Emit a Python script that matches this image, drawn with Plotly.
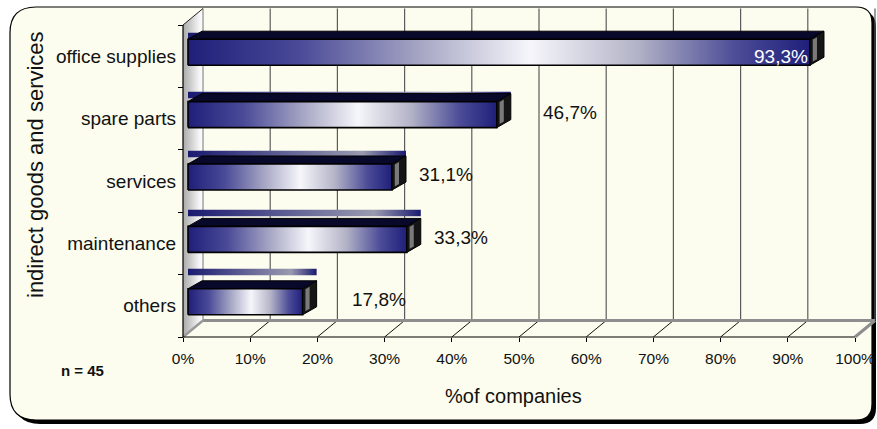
import plotly.graph_objects as go

# ---- data -------------------------------------------------------------
categories = ["office supplies", "spare parts", "services", "maintenance", "others"]
shares = [93.3, 46.7, 31.1, 33.3, 17.8]          # % of companies
x_tick_values = list(range(0, 101, 10))
x_tick_labels = [f"{t}%" for t in x_tick_values]
sample_note = "n = 45"
x_title = "%of companies"
y_title = "indirect goods and services"

# ---- geometry of the pseudo-3D frame (pixels -> axis units) -----------
W, H = 877, 429
X0_PX, Y0_PX = 183, 337        # front origin: 0 % on the floor line
PX_X, PX_Y = 6.72, 62.4        # pixels per percent / per category band


def ux(px):
    return px / PX_X


def uy(px):
    return px / PX_Y


WALL_DX, WALL_DY = ux(20), uy(16.5)    # depth of walls/floor
BAR_DX, BAR_DY = ux(14), uy(8)         # depth of each bar
N = len(categories)
TOP_U = N + WALL_DY
label_gap_px = [0, 44, 25, 25, 47]     # distance of outside labels from bar end

fig = go.Figure()


def poly(xs, ys, line_color="rgba(0,0,0,0)", line_width=0, fillcolor=None, gradient=None):
    kw = dict(x=list(xs) + [xs[0]], y=list(ys) + [ys[0]], mode="lines", fill="toself",
              line=dict(color=line_color, width=line_width),
              hoverinfo="skip", showlegend=False)
    if gradient is not None:
        kw["fillgradient"] = dict(type="horizontal", colorscale=gradient)
    else:
        kw["fillcolor"] = fillcolor
    fig.add_trace(go.Scatter(**kw))


def seg(xs, ys, color, width):
    fig.add_trace(go.Scatter(x=xs, y=ys, mode="lines", line=dict(color=color, width=width),
                             hoverinfo="skip", showlegend=False))


# left wall with grey shading
poly([0, WALL_DX, WALL_DX, 0], [0, WALL_DY, TOP_U, N],
     gradient=[[0, "#a9a9a9"], [0.8, "#f4f4f4"], [1, "#ffffff"]])

# back-wall gridlines
for k in x_tick_values[1:]:
    seg([k + WALL_DX, k + WALL_DX], [WALL_DY, TOP_U], "#5c5c5c", 1.2)
seg([WALL_DX, WALL_DX], [WALL_DY, TOP_U], "#8a8a8a", 1.2)
seg([0, WALL_DX], [N, TOP_U], "#222222", 1)

# floor edges and depth ticks
for k in x_tick_values[1:-1]:
    seg([k, k + WALL_DX], [0, WALL_DY], "#111111", 1)
seg([WALL_DX, 100 + WALL_DX], [WALL_DY, WALL_DY], "#8e8e8e", 3)
seg([100, 100 + WALL_DX], [0, WALL_DY], "#8e8e8e", 3)
seg([0, WALL_DX], [0, WALL_DY], "#9a9a9a", 2.5)

# front axis lines
seg([0, 100], [0, 0], "#000000", 1.2)
seg([0, 0], [0, N], "#000000", 1.2)

front_grad = [[0, "#1f1f7a"], [0.18, "#4a4a98"], [0.38, "#a9a9c6"], [0.55, "#f6f6fb"],
              [0.72, "#b4b4c8"], [0.88, "#4c4c98"], [1, "#1f1f7a"]]
band_grad = [[0, "#1a1a70"], [0.5, "#6a6a9a"], [0.8, "#9a9ab0"], [1, "#1a1a70"]]

x_start = ux(5)
annotations = []
for r, (cat, v) in enumerate(zip(categories, shares)):
    uc = N - 0.5 - r
    top = uc + uy(17)
    bot = uc - uy(9)
    # thin receding band behind the bar
    nb_top = top + uy(6.5 + 3.4 * r)
    nb_bot = nb_top - uy(6.5)
    poly([x_start, v + BAR_DX, v + BAR_DX, x_start], [nb_bot, nb_bot, nb_top, nb_top],
         gradient=band_grad)
    # top face
    poly([x_start, v, v + BAR_DX, x_start + BAR_DX], [top, top, top + BAR_DY, top + BAR_DY],
         line_color="#000000", line_width=1, fillcolor="#08082a")
    # front face
    poly([x_start, v, v, x_start], [bot, bot, top, top],
         line_color="#000000", line_width=1.6, gradient=front_grad)
    # end face
    poly([v, v + BAR_DX, v + BAR_DX, v], [top, top + BAR_DY, bot + BAR_DY, bot],
         line_color="#000000", line_width=1, fillcolor="#151515")
    a, b = 0.2, 0.5
    poly([v + a * BAR_DX, v + b * BAR_DX, v + b * BAR_DX, v + a * BAR_DX],
         [top + a * BAR_DY - uy(2), top + b * BAR_DY - uy(2),
          bot + b * BAR_DY + uy(2), bot + a * BAR_DY + uy(2)],
         fillcolor="#7a7a7a")

    text = f"{v:.1f}".replace(".", ",") + "%"
    if label_gap_px[r] == 0:
        annotations.append(dict(x=v, y=uc, xref="x", yref="y", text=text, showarrow=False,
                                xanchor="right", yanchor="middle",
                                font=dict(color="#ffffff", size=19)))
    else:
        annotations.append(dict(x=v + ux(label_gap_px[r]), y=uc + 0.1, xref="x", yref="y",
                                text=text, showarrow=False, xanchor="left", yanchor="middle",
                                font=dict(color="#111111", size=19)))

# titles and note
annotations += [
    dict(x=36 / W, y=1 - 165 / H, xref="paper", yref="paper", text=y_title, textangle=-90,
         showarrow=False, xanchor="center", yanchor="middle", font=dict(size=22, color="#111111")),
    dict(x=513 / W, y=1 - 396 / H, xref="paper", yref="paper", text=x_title,
         showarrow=False, xanchor="center", yanchor="middle", font=dict(size=20, color="#111111")),
    dict(x=82 / W, y=1 - 370 / H, xref="paper", yref="paper", text=f"<b>{sample_note}</b>",
         showarrow=False, xanchor="center", yanchor="middle", font=dict(size=15, color="#111111")),
]


# rounded card with drop shadow
def card_path(L, T, R, B, rl, rr):
    def p(x, y):
        return f"{x / W:.5f},{1 - y / H:.5f}"
    return (f"M{p(L + rl, T)} L{p(R - rr, T)} Q{p(R, T)} {p(R, T + rr)} "
            f"L{p(R, B - rr)} Q{p(R, B)} {p(R - rr, B)} L{p(L + rl, B)} "
            f"Q{p(L, B)} {p(L, B - rl)} L{p(L, T + rl)} Q{p(L, T)} {p(L + rl, T)} Z")


shapes = [
    dict(type="path", xref="paper", yref="paper", layer="below",
         path=card_path(14, 11, 876, 424, 26, 16), fillcolor="#000000", line=dict(width=0)),
    dict(type="path", xref="paper", yref="paper", layer="below",
         path=card_path(10, 7, 872, 420, 26, 16), fillcolor="#fcfdee",
         line=dict(color="#000000", width=1.2)),
]

font_family = "Liberation Sans, Arial, sans-serif"
fig.update_layout(
    width=W, height=H,
    margin=dict(l=0, r=0, t=0, b=0),
    paper_bgcolor="#ffffff",
    plot_bgcolor="rgba(0,0,0,0)",
    font=dict(family=font_family, color="#111111"),
    showlegend=False,
    shapes=shapes,
    annotations=annotations,
    xaxis=dict(
        domain=[178 / W, 1],
        range=[ux(178 - X0_PX), ux(W - X0_PX)],
        anchor="free", position=1 - Y0_PX / H,
        tickmode="array", tickvals=x_tick_values, ticktext=x_tick_labels,
        ticks="outside", ticklen=4, tickcolor="#000000", tickwidth=1,
        ticklabelstandoff=3,
        tickfont=dict(size=15.5, color="#111111"),
        showgrid=False, zeroline=False, showline=False, automargin=False,
        fixedrange=True,
    ),
    yaxis=dict(
        domain=[1 - 342 / H, 1 - 6 / H],
        range=[uy(Y0_PX - 342), uy(Y0_PX - 6)],
        anchor="free", position=X0_PX / W,
        tickmode="array", tickvals=[N - 0.5 - i for i in range(N)], ticktext=categories,
        ticks="", ticklabelstandoff=7,
        minor=dict(tickmode="array", tickvals=list(range(N + 1)), ticks="outside",
                   ticklen=5, tickcolor="#000000", tickwidth=1, showgrid=False),
        tickfont=dict(size=19, color="#111111"),
        showgrid=False, zeroline=False, showline=False, automargin=False,
        fixedrange=True,
    ),
)

fig.write_html("out.html")
